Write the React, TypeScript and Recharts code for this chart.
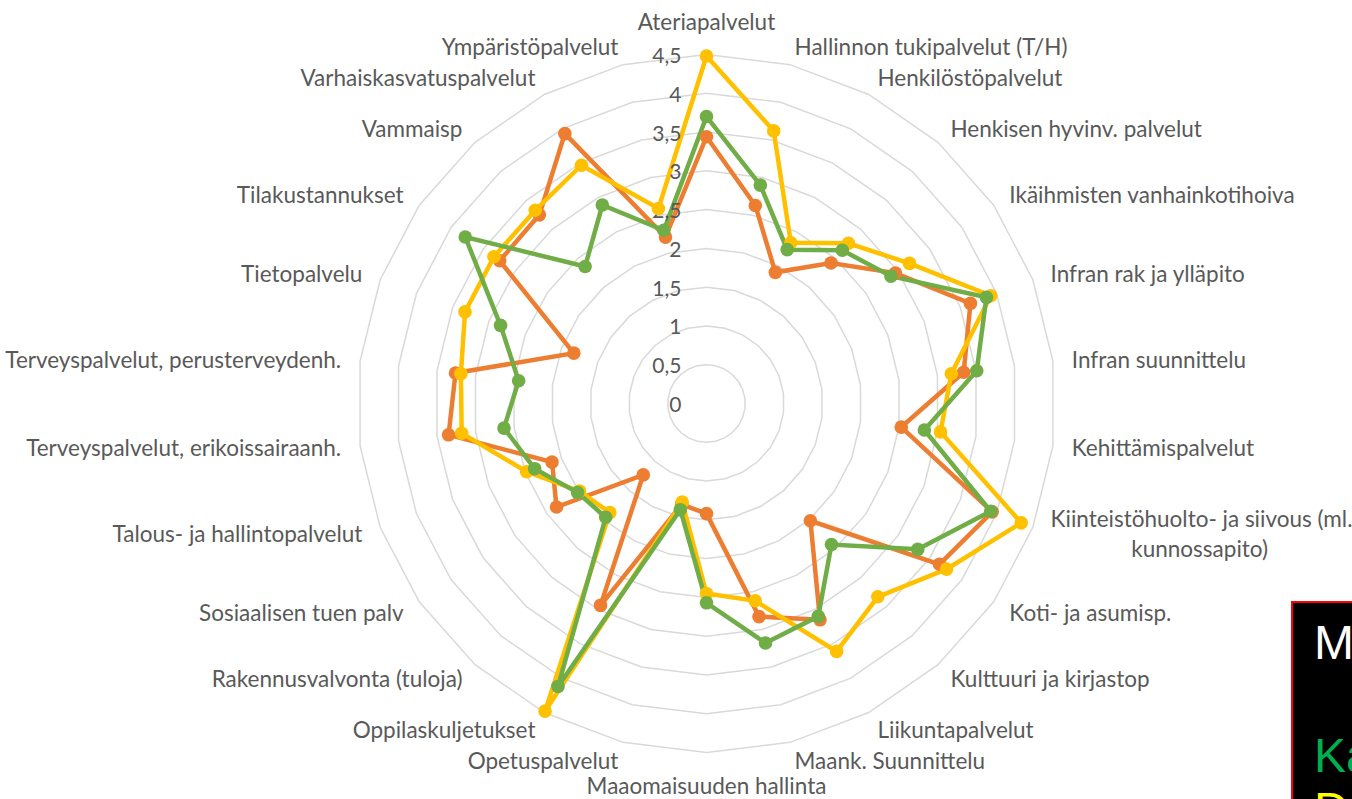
import { PolarAngleAxis, PolarGrid, PolarRadiusAxis, Radar, RadarChart } from 'recharts'

const categories = [
  'Ateriapalvelut',
  'Hallinnon tukipalvelut (T/H)',
  'Henkilöstöpalvelut',
  'Henkisen hyvinv. palvelut',
  'Ikäihmisten vanhainkotihoiva',
  'Infran rak ja ylläpito',
  'Infran suunnittelu',
  'Kehittämispalvelut',
  'Kiinteistöhuolto- ja siivous (ml. kunnossapito)',
  'Koti- ja asumisp.',
  'Kulttuuri ja kirjastop',
  'Liikuntapalvelut',
  'Maank. Suunnittelu',
  'Maaomaisuuden hallinta',
  'Opetuspalvelut',
  'Oppilaskuljetukset',
  'Rakennusvalvonta (tuloja)',
  'Sosiaalisen tuen palv',
  'Talous- ja hallintopalvelut',
  'Terveyspalvelut, erikoissairaanh.',
  'Terveyspalvelut, perusterveydenh.',
  'Tietopalvelu',
  'Tilakustannukset',
  'Vammaisp',
  'Varhaiskasvatuspalvelut',
  'Ympäristöpalvelut'
]

const orangeValues = [3.44, 2.63, 1.91, 2.42, 2.96, 3.64, 3.34, 2.53, 3.94, 3.65, 2.02, 3.15, 2.83, 1.42, 1.34, 2.94, 1.23, 2.35, 2.13, 3.35, 3.26, 1.83, 3.24, 3.25, 3.93, 2.21]
const yellowValues = [4.48, 3.62, 2.34, 2.76, 3.18, 3.92, 3.18, 3.04, 4.34, 3.76, 3.33, 3.61, 2.62, 2.45, 1.31, 4.48, 1.88, 1.99, 2.48, 3.18, 3.19, 3.33, 3.33, 3.33, 3.47, 2.59]
const greenValues = [3.70, 2.90, 2.24, 2.64, 2.89, 3.86, 3.51, 2.83, 3.92, 3.31, 2.43, 3.10, 3.18, 2.57, 1.41, 4.12, 1.96, 2.02, 2.37, 2.63, 2.44, 2.84, 3.78, 2.36, 2.89, 2.30]

const radiusTicks = [0, 0.5, 1, 1.5, 2, 2.5, 3, 3.5, 4, 4.5]

const CX = 706.5
const CY = 403.5
// recharts rounds the radius domain up to 5, so size the chart so that 4.5 lands on the outer ring
const OUTER = 349 * 5 / 4.5
const LABEL_R = 368
const FONT = 'Lato, sans-serif'
const TEXT_COLOR = '#595959'

const data = categories.map((name, i) => ({
  name,
  orange: orangeValues[i],
  yellow: yellowValues[i],
  green: greenValues[i]
}))

const AngleTick = (props: any) => {
  const index = props.payload?.index ?? props.index
  const label = categories[index]
  const deg = index * 360 / categories.length
  const rad = deg * Math.PI / 180
  const x = CX + LABEL_R * Math.sin(rad)
  let y = CY - LABEL_R * Math.cos(rad)
  const s = Math.sin(rad)
  let anchor: 'start' | 'middle' | 'end' = 'middle'
  if (s > 0.01) anchor = 'start'
  else if (s < -0.01) anchor = 'end'
  if (anchor === 'middle') y += Math.cos(rad) > 0 ? -14 : 14
  const style = { fontFamily: FONT, fontSize: '22.5px' }
  if (label.startsWith('Kiinteistöhuolto')) {
    return (
      <text fill={TEXT_COLOR} style={style}>
        <tspan x={x} y={y - 15} textAnchor='start' dominantBaseline='central'>
          Kiinteistöhuolto- ja siivous (ml.
        </tspan>
        <tspan x={x + 149} y={y + 15} textAnchor='middle' dominantBaseline='central'>
          kunnossapito)
        </tspan>
      </text>
    )
  }
  return (
    <text x={x} y={y} textAnchor={anchor} dominantBaseline='central' fill={TEXT_COLOR} style={style}>
      {label}
    </text>
  )
}

const RadiusTick = (props: any) => {
  const { x, y, payload } = props
  return (
    <text
      x={x - 25}
      y={y}
      textAnchor='end'
      dominantBaseline='central'
      fill={TEXT_COLOR}
      style={{ fontFamily: FONT, fontSize: '21px' }}
    >
      {String(payload.value).replace('.', ',')}
    </text>
  )
}

const series = [
  { key: 'orange', color: '#ED7D31' },
  { key: 'yellow', color: '#FFC000' },
  { key: 'green', color: '#70AD47' }
]

const App = () => {
  return (
    <div style={{ position: 'fixed', left: 0, top: 0, width: 1352, height: 799, overflow: 'hidden', background: '#fff' }}>
      <RadarChart
        width={1352}
        height={799}
        cx={CX}
        cy={CY}
        outerRadius={OUTER}
        startAngle={90}
        endAngle={-270}
        data={data}
        margin={{ top: 0, right: 0, bottom: 0, left: 0 }}
      >
        <PolarGrid gridType='polygon' radialLines={false} stroke='#d9d9d9' strokeWidth={1.5} />
        <PolarAngleAxis dataKey='name' tick={AngleTick} axisLine={false} tickLine={false} />
        <PolarRadiusAxis
          type='number'
          angle={90}
          domain={[0, 5]}
          ticks={radiusTicks as any}
          axisLine={false}
          tickLine={false}
          tick={RadiusTick}
        />
        {series.map((s) => (
          <Radar
            key={s.key}
            dataKey={s.key}
            stroke={s.color}
            strokeWidth={4.5}
            fill='none'
            fillOpacity={0}
            dot={(p: any) => <circle key={`${s.key}-${p.index}`} cx={p.cx} cy={p.cy} r={6.8} fill={s.color} />}
            isAnimationActive={false}
          />
        ))}
      </RadarChart>
      <div
        style={{
          position: 'absolute',
          left: 1291,
          top: 601,
          width: 120,
          height: 260,
          background: '#000',
          border: '2px solid #ff0000',
          boxSizing: 'border-box'
        }}
      />
      <div style={{ position: 'absolute', left: 1314, top: 619, fontFamily: '"Liberation Sans", Arial, sans-serif', fontSize: '48px', lineHeight: 1, color: '#ffffff', whiteSpace: 'nowrap' }}>M</div>
      <div style={{ position: 'absolute', left: 1314, top: 732, fontFamily: '"Liberation Sans", Arial, sans-serif', fontSize: '48px', lineHeight: 1, color: '#00B050', whiteSpace: 'nowrap' }}>Ka</div>
      <div style={{ position: 'absolute', left: 1314, top: 786, fontFamily: '"Liberation Sans", Arial, sans-serif', fontSize: '48px', lineHeight: 1, color: '#FFFF00', whiteSpace: 'nowrap' }}>D</div>
    </div>
  )
}

export default App
